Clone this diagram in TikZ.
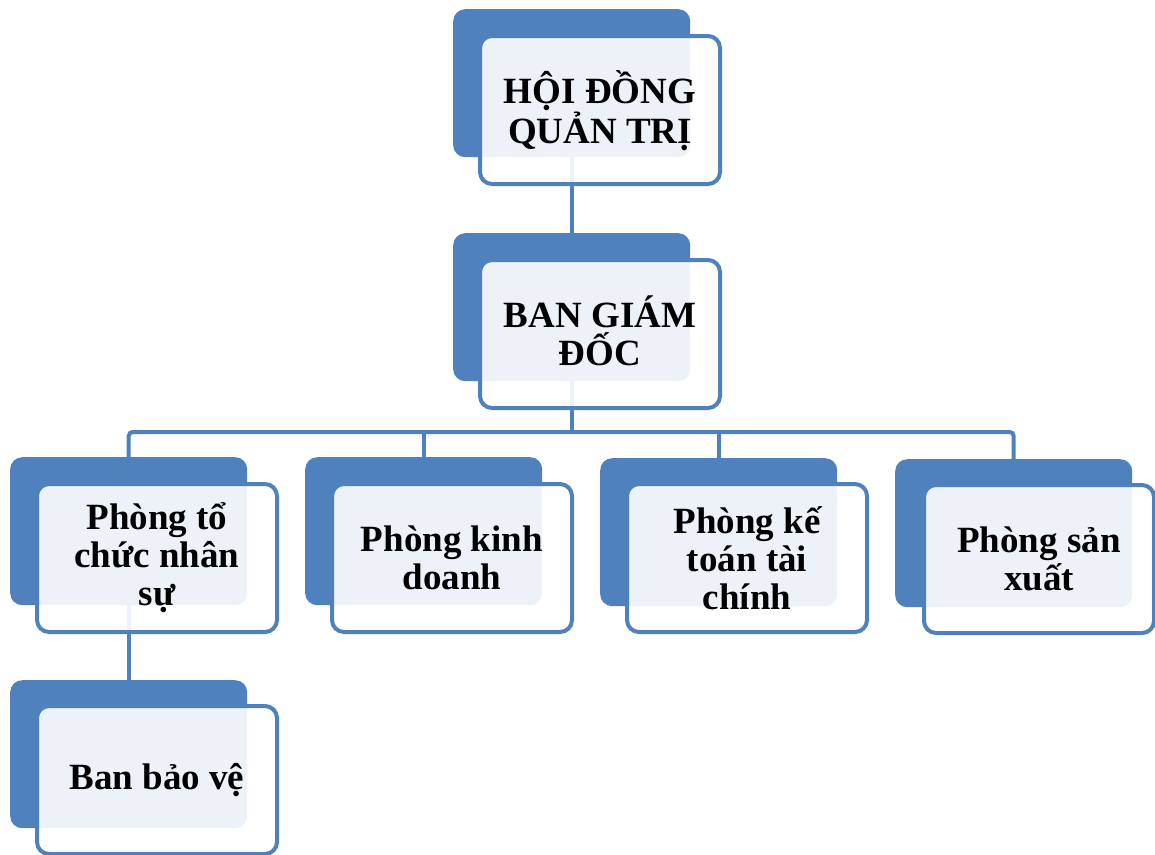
\documentclass[tikz,border=0pt]{standalone}
\usepackage{fontspec}
\setmainfont{Liberation Serif}
\begin{document}
\begin{tikzpicture}[x=1pt,y=-1pt,
  backbox/.style={fill={rgb,255:red,79;green,129;blue,189}, rounded corners=12pt,
    minimum width=237pt, minimum height=148pt, inner sep=0pt, anchor=north west},
  frontbox/.style={draw={rgb,255:red,79;green,129;blue,189}, line width=4pt,
    fill=white, fill opacity=0.9, text opacity=1, rounded corners=12pt,
    minimum width=240pt, minimum height=148pt, inner sep=0pt, anchor=north west,
    align=center, font=\fontsize{37}{38}\selectfont\bfseries},
  conn/.style={draw={rgb,255:red,79;green,129;blue,189}, line width=4pt, rounded corners=4pt}
]
\clip (0,0) rectangle (1155,854);
\useasboundingbox (0,0) rectangle (1155,854);

% back panels
\node[backbox] (hdb)  at (453,9)   {};
\node[backbox] (bgdb) at (453,233) {};
\node[backbox] (p1b)  at (10,457)  {};
\node[backbox] (p2b)  at (305,457) {};
\node[backbox] (p3b)  at (600,458) {};
\node[backbox] (p4b)  at (895,459) {};
\node[backbox] (bvb)  at (10,680)  {};

% connectors
\coordinate (bus) at (0,432);
\draw[conn] (hdb.south) -- (bgdb.north);
\draw[conn] (bgdb.south) -- (bgdb.south |- bus);
\draw[conn] (p1b.north) -- (p1b.north |- bus) -- (p4b.north |- bus) -- (p4b.north);
\draw[conn] (p2b.north |- bus) -- (p2b.north);
\draw[conn] (p3b.north |- bus) -- (p3b.north);
\draw[conn] (p1b.south) -- (bvb.north);

% front panels with labels
\node[frontbox, text depth=6pt] (hd)  at (478,34)  {HỘI ĐỒNG\\QUẢN TRỊ};
\node[frontbox, text depth=6pt] (bgd) at (478,258) {BAN GIÁM\\ĐỐC};
\node[frontbox] (p1)  at (35,482)  {Phòng tổ\\chức nhân\\sự};
\node[frontbox] (p2)  at (330,482) {Phòng kinh\\doanh};
\node[frontbox] (p3)  at (625,482) {Phòng kế\\toán tài\\chính};
\node[frontbox, minimum width=230pt] (p4) at (922,483) {Phòng sản\\xuất};
\node[frontbox] (bv)  at (35,704)  {Ban bảo vệ};
\end{tikzpicture}
\end{document}
